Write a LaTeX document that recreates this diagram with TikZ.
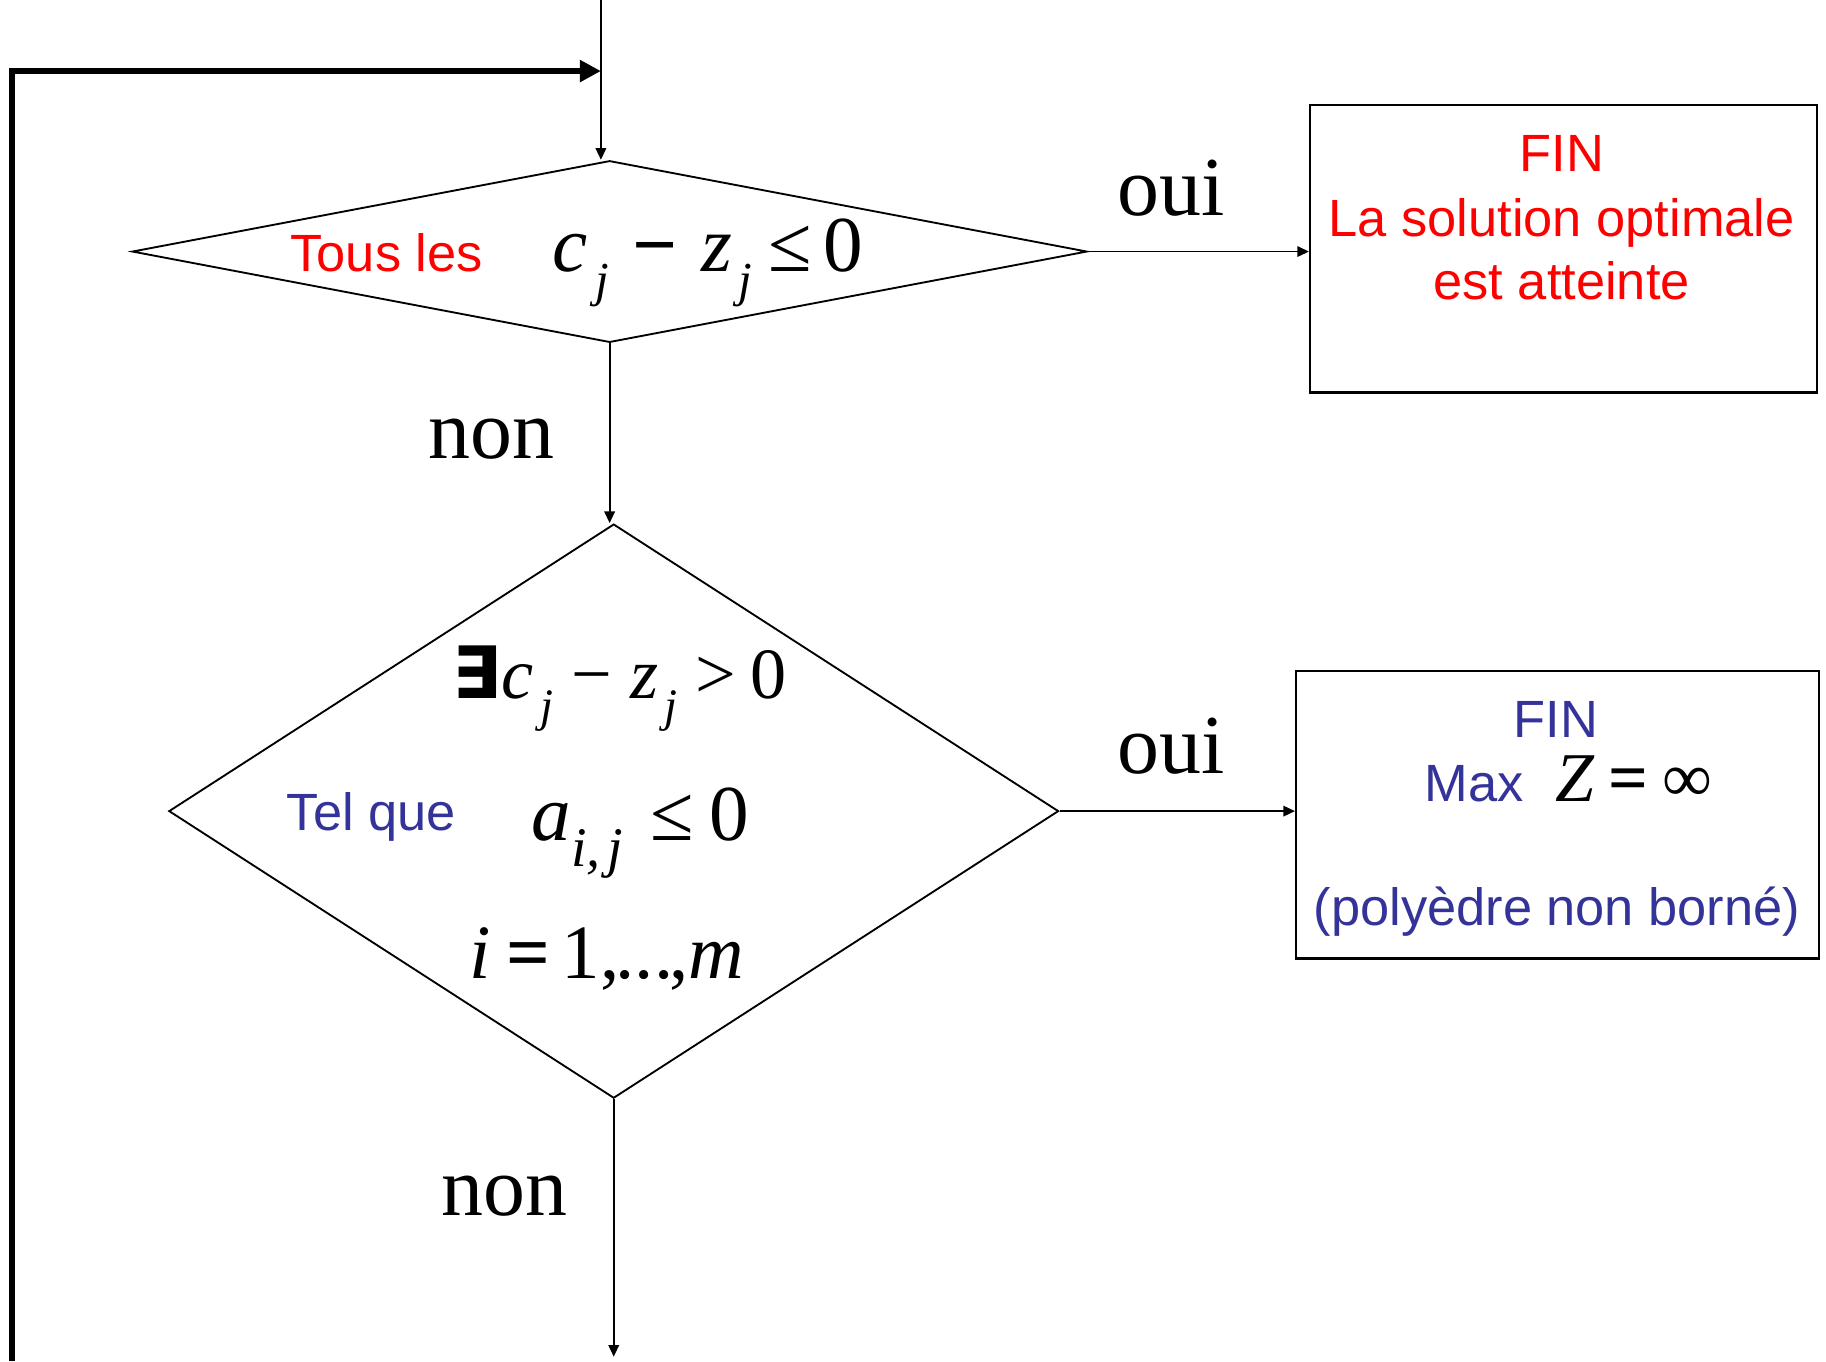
\documentclass[tikz,border=0pt]{standalone}
\usepackage{fontspec}
\setmainfont{Liberation Sans}
\newfontfamily\tms{Liberation Serif}
\newfontfamily\dejavu{DejaVu Sans}
\usetikzlibrary{arrows.meta,shapes.geometric}
\definecolor{tred}{RGB}{255,0,0}
\definecolor{tblue}{RGB}{51,51,153}
\newcommand{\sbj}[2]{\raisebox{-0.32em}{\fontsize{#1}{#1}\selectfont\itshape #2}}
\begin{document}
\begin{tikzpicture}[x=0.5pt,y=-0.5pt,
  thinline/.style={line width=0.8pt},
  thinarrow/.style={line width=0.8pt,-{Triangle[length=5pt,width=4.5pt]}},
  thickarrow/.style={line width=2.6pt,-{Triangle[length=9pt,width=9pt]}},
  decision/.style={diamond,draw,line width=0.8pt,inner sep=0pt,shape aspect=1},
  endbox/.style={rectangle,draw,line width=1pt,inner sep=0pt},
  serifl/.style={font=\fontsize{36}{40}\tms\selectfont,anchor=base,inner sep=0pt},
  redt/.style={text=tred,font=\fontsize{22.5}{26}\selectfont,anchor=base,inner sep=0pt},
  bluet/.style={text=tblue,font=\fontsize{22.5}{26}\selectfont,anchor=base,inner sep=0pt}]
\useasboundingbox (0,0) rectangle (1568,1169);

% decisions
\node[decision,minimum width=410pt,minimum height=78pt] (d1) at (523.5,216) {};
\node[decision,minimum width=382pt,minimum height=246.5pt] (d2) at (527,696.5) {};
% end boxes
\node[endbox,minimum width=217.5pt,minimum height=123.5pt] (b1) at (1342.5,213.5) {};
\node[endbox,minimum width=224.5pt,minimum height=123.5pt] (b2) at (1337.5,699.5) {};

% coordinates
\coordinate (top) at (516,0);
\coordinate (loopS) at (10,1169);
\coordinate (loopC) at (10,61);
\coordinate (loopE) at (516,61);
\coordinate (out) at (528,1165);

% connectors
\draw[thinarrow] (top) -- (top |- d1.north);
\draw[thickarrow] (loopS) -- (loopC) -- (loopE);
\draw[thinarrow] (d1.east) -- (d1.east -| b1.west);
\draw[thinarrow] (d1.south) -- (d1.south |- d2.north);
\draw[thinarrow] (d2.east) -- (d2.east -| b2.west);
\draw[thinarrow] (d2.south) -- (d2.south |- out);

% labels
\node[serifl] (oui1) at (1006,185) {oui};
\node[serifl] (non1) at (422,394) {non};
\node[serifl] (oui2) at (1006,664) {oui};
\node[serifl] (non2) at (433,1044) {non};

% diamond 1 text
\node[redt] (tous) at (332,233) {Tous les};
\node[anchor=base west,inner sep=0pt] (cz1) at (474,233)
  {\fontsize{34}{38}\tms\selectfont\itshape c\hspace{0.1em}\sbj{21}{j}\hspace{0.3em}\upshape\textbf{−}\hspace{0.3em}\itshape z\hspace{0.08em}\sbj{21}{j}\hspace{0.2em}\upshape ≤\hspace{0.15em}0};

% diamond 2 text
\node[anchor=base west,inner sep=0pt] (ex) at (388,600)
  {\fontsize{31}{34}\tms\selectfont{\dejavu\bfseries ∃}\itshape c\hspace{0.1em}\sbj{20}{j}\hspace{0.25em}\upshape −\hspace{0.25em}\itshape z\hspace{0.08em}\sbj{20}{j}\hspace{0.25em}\upshape >\hspace{0.2em}0};
\node[bluet] (tel) at (319,713) {Tel que};
\node[anchor=base west,inner sep=0pt] (aij) at (456,722)
  {\fontsize{34}{38}\tms\selectfont\itshape a\sbj{24}{i,\hspace{0.12em}j}\hspace{0.35em}\upshape ≤\hspace{0.2em}0};
\node[anchor=base west,inner sep=0pt] (irng) at (403,840)
  {\fontsize{33}{38}\tms\selectfont\itshape i\hspace{0.2em}\upshape\textbf{=}\hspace{0.15em}1,\hspace{-0.05em}...\hspace{-0.05em},\itshape m};

% box 1 text
\node[redt] (fin1) at (1341,147) {FIN};
\node[redt] (sol1) at (1341,203) {La solution optimale};
\node[redt] (sol2) at (1341,257) {est atteinte};

% box 2 text
\node[bluet] (fin2) at (1336,633) {FIN};
\node[anchor=base west,inner sep=0pt] (maxz) at (1223,688)
  {\fontsize{22.5}{26}\selectfont\color{tblue}Max\hspace{0.6em}\color{black}\fontsize{30}{34}\tms\selectfont\itshape Z\hspace{0.2em}\upshape\textbf{=}\hspace{0.2em}∞};
\node[bluet] (poly) at (1337,795) {(polyèdre non borné)};
\end{tikzpicture}
\end{document}
